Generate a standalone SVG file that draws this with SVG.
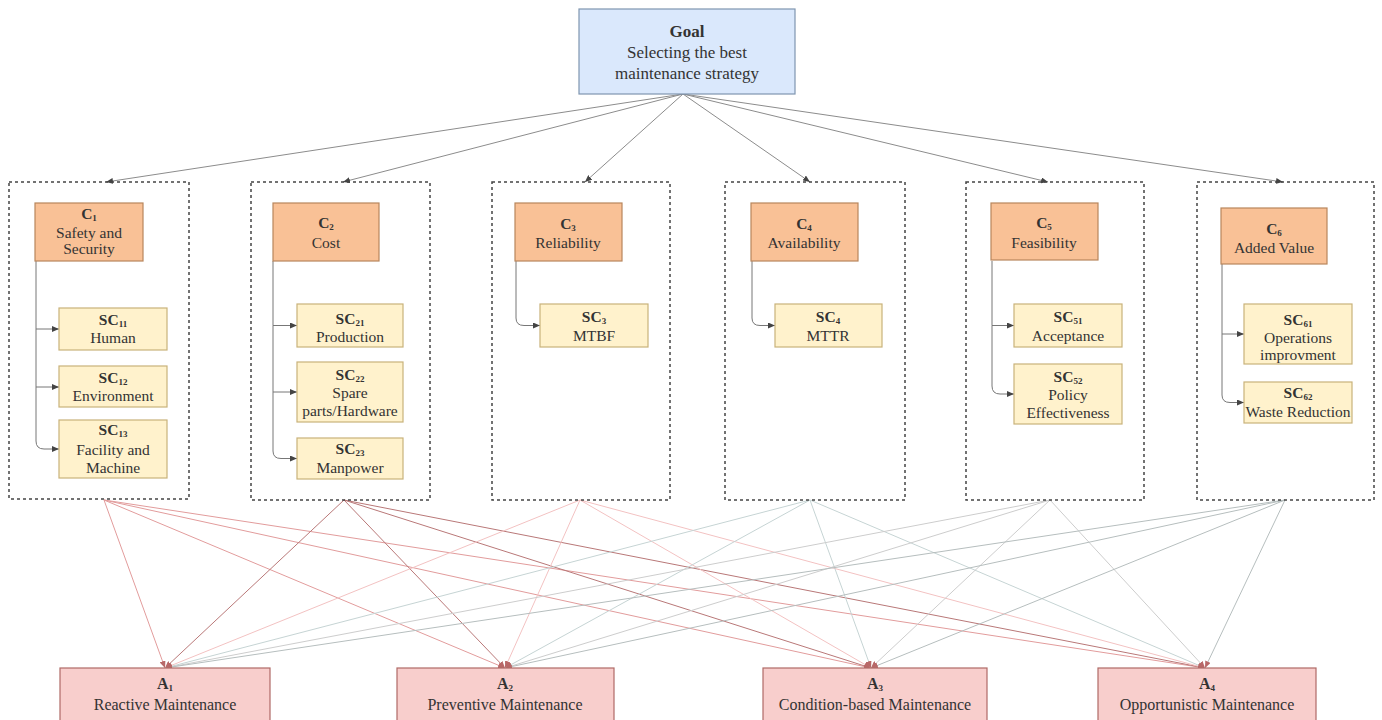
<svg xmlns="http://www.w3.org/2000/svg" width="1382" height="720" viewBox="0 0 1382 720">
<defs>
<style>
text{font-family:"Liberation Serif","Times New Roman",serif;font-size:15.5px;fill:#333;text-anchor:middle}
.g{font-size:17px}
.a{font-size:16px}
.b{font-weight:bold}
.s{font-size:9px}
.goal{fill:#dae8fc;stroke:#7f95b0;stroke-width:1.2}
.crit{fill:#f9c196;stroke:#b8865c;stroke-width:1.2}
.sub{fill:#fff2cc;stroke:#c9b27a;stroke-width:1.2}
.alt{fill:#f8cecc;stroke:#b06a66;stroke-width:1.2}
.box{fill:none;stroke:#444;stroke-width:1.5;stroke-dasharray:3 3}
.top{stroke:#8c8c8c;stroke-width:1;fill:none;marker-end:url(#ah)}
.inn{stroke:#777;stroke-width:1;fill:none;marker-end:url(#ah)}
.bot{stroke-width:1;fill:none;marker-end:url(#ar)}
.l1{stroke:#e29c9c}
.l2{stroke:#b97878}
.l3{stroke:#f3c2c2}
.l4{stroke:#c6d4d4}
.l5{stroke:#cdcdcd}
.l6{stroke:#b6bebe}
</style>
<marker id="ah" markerUnits="userSpaceOnUse" markerWidth="7" markerHeight="6" refX="7" refY="3" orient="auto"><path d="M0,0 L7,3 L0,6 z" fill="#444"/></marker>
<marker id="ar" markerUnits="userSpaceOnUse" markerWidth="7" markerHeight="6" refX="7" refY="3" orient="auto"><path d="M0,0 L7,3 L0,6 z" fill="#b86868"/></marker>
</defs>
<rect width="1382" height="720" fill="#fff"/>

<g id="connectors">
<path class="top" d="M683 94 L106 182"/>
<path class="top" d="M683 94 L343 182"/>
<path class="top" d="M683 94 L585 182"/>
<path class="top" d="M683 94 L810 182"/>
<path class="top" d="M683 94 L1048 182"/>
<path class="top" d="M683 94 L1283 182"/>

<path class="inn" d="M36 261 V329 H59"/>
<path class="inn" d="M36 329 V387 H59"/>
<path class="inn" d="M36 387 V441 Q36 449 44 449 H59"/>
<path class="inn" d="M273 261 V325.5 H297"/>
<path class="inn" d="M273 325.5 V392 H297"/>
<path class="inn" d="M273 392 V451 Q273 458.5 281 458.5 H297"/>
<path class="inn" d="M516 261 V318 Q516 325.5 524 325.5 H540"/>
<path class="inn" d="M752 261 V318 Q752 325.5 760 325.5 H775"/>
<path class="inn" d="M992 261 V325.5 H1014"/>
<path class="inn" d="M992 325.5 V386 Q992 394 1000 394 H1014"/>
<path class="inn" d="M1222 264 V334 H1244"/>
<path class="inn" d="M1222 334 V395 Q1222 402.5 1230 402.5 H1244"/>

<path class="bot l1" d="M104 500 L165 668"/>
<path class="bot l1" d="M104 500 L505 668"/>
<path class="bot l1" d="M104 500 L871 668"/>
<path class="bot l1" d="M104 500 L1205 668"/>
<path class="bot l2" d="M344 500 L165 668"/>
<path class="bot l2" d="M344 500 L505 668"/>
<path class="bot l2" d="M344 500 L871 668"/>
<path class="bot l2" d="M344 500 L1205 668"/>
<path class="bot l3" d="M580 500 L165 668"/>
<path class="bot l3" d="M580 500 L505 668"/>
<path class="bot l3" d="M580 500 L871 668"/>
<path class="bot l3" d="M580 500 L1205 668"/>
<path class="bot l4" d="M810 500 L165 668"/>
<path class="bot l4" d="M810 500 L505 668"/>
<path class="bot l4" d="M810 500 L871 668"/>
<path class="bot l4" d="M810 500 L1205 668"/>
<path class="bot l5" d="M1050 500 L165 668"/>
<path class="bot l5" d="M1050 500 L505 668"/>
<path class="bot l5" d="M1050 500 L871 668"/>
<path class="bot l5" d="M1050 500 L1205 668"/>
<path class="bot l6" d="M1285 500 L165 668"/>
<path class="bot l6" d="M1285 500 L505 668"/>
<path class="bot l6" d="M1285 500 L871 668"/>
<path class="bot l6" d="M1285 500 L1205 668"/>
</g>

<g id="goal">
<rect class="goal" x="579" y="9" width="216" height="85"/>
<text class="g b" x="687" y="37">Goal</text>
<text class="g" x="687" y="58">Selecting the best</text>
<text class="g" x="687" y="79">maintenance strategy</text>
</g>

<g id="group-c1"><rect class="box" x="9" y="182" width="180" height="317"/></g>
<g id="group-c2"><rect class="box" x="251" y="182" width="179" height="318"/></g>
<g id="group-c3"><rect class="box" x="492" y="182" width="178" height="318"/></g>
<g id="group-c4"><rect class="box" x="725" y="182" width="180" height="318"/></g>
<g id="group-c5"><rect class="box" x="966" y="182" width="178" height="318"/></g>
<g id="group-c6"><rect class="box" x="1197" y="182" width="177" height="318"/></g>

<g id="c1">
<rect class="crit" x="35" y="203" width="108" height="58"/>
<text class="b" x="89" y="219">C<tspan class="s" dy="2">1</tspan></text>
<text x="89" y="238">Safety and</text>
<text x="89" y="254">Security</text>
</g>
<g id="sc11">
<rect class="sub" x="59" y="308" width="108" height="42"/>
<text class="b" x="113" y="325">SC<tspan class="s" dy="2">11</tspan></text>
<text x="113" y="343">Human</text>
</g>
<g id="sc12">
<rect class="sub" x="59" y="366" width="108" height="41"/>
<text class="b" x="113" y="383">SC<tspan class="s" dy="2">12</tspan></text>
<text x="113" y="401">Environment</text>
</g>
<g id="sc13">
<rect class="sub" x="59" y="420" width="108" height="58"/>
<text class="b" x="113" y="435">SC<tspan class="s" dy="2">13</tspan></text>
<text x="113" y="455">Facility and</text>
<text x="113" y="473">Machine</text>
</g>

<g id="c2">
<rect class="crit" x="273" y="203" width="106" height="58"/>
<text class="b" x="326" y="228">C<tspan class="s" dy="2">2</tspan></text>
<text x="326" y="248">Cost</text>
</g>
<g id="sc21">
<rect class="sub" x="297" y="304" width="106" height="43"/>
<text class="b" x="350" y="324">SC<tspan class="s" dy="2">21</tspan></text>
<text x="350" y="342">Production</text>
</g>
<g id="sc22">
<rect class="sub" x="297" y="362" width="106" height="60"/>
<text class="b" x="350" y="380">SC<tspan class="s" dy="2">22</tspan></text>
<text x="350" y="398">Spare</text>
<text x="350" y="416">parts/Hardware</text>
</g>
<g id="sc23">
<rect class="sub" x="297" y="438" width="106" height="41"/>
<text class="b" x="350" y="454">SC<tspan class="s" dy="2">23</tspan></text>
<text x="350" y="473">Manpower</text>
</g>

<g id="c3">
<rect class="crit" x="515" y="203" width="107" height="58"/>
<text class="b" x="568" y="229">C<tspan class="s" dy="2">3</tspan></text>
<text x="568" y="248">Reliability</text>
</g>
<g id="sc3">
<rect class="sub" x="540" y="304" width="108" height="43"/>
<text class="b" x="594" y="322">SC<tspan class="s" dy="2">3</tspan></text>
<text x="594" y="341">MTBF</text>
</g>

<g id="c4">
<rect class="crit" x="751" y="203" width="107" height="58"/>
<text class="b" x="804" y="229">C<tspan class="s" dy="2">4</tspan></text>
<text x="804" y="248">Availability</text>
</g>
<g id="sc4">
<rect class="sub" x="775" y="304" width="107" height="43"/>
<text class="b" x="828" y="322">SC<tspan class="s" dy="2">4</tspan></text>
<text x="828" y="341">MTTR</text>
</g>

<g id="c5">
<rect class="crit" x="991" y="203" width="107" height="57"/>
<text class="b" x="1044" y="228">C<tspan class="s" dy="2">5</tspan></text>
<text x="1044" y="248">Feasibility</text>
</g>
<g id="sc51">
<rect class="sub" x="1014" y="304" width="108" height="43"/>
<text class="b" x="1068" y="322">SC<tspan class="s" dy="2">51</tspan></text>
<text x="1068" y="341">Acceptance</text>
</g>
<g id="sc52">
<rect class="sub" x="1014" y="364" width="108" height="60"/>
<text class="b" x="1068" y="382">SC<tspan class="s" dy="2">52</tspan></text>
<text x="1068" y="400">Policy</text>
<text x="1068" y="418">Effectiveness</text>
</g>

<g id="c6">
<rect class="crit" x="1221" y="208" width="106" height="56"/>
<text class="b" x="1274" y="234">C<tspan class="s" dy="2">6</tspan></text>
<text x="1274" y="253">Added Value</text>
</g>
<g id="sc61">
<rect class="sub" x="1244" y="304" width="108" height="60"/>
<text class="b" x="1298" y="325">SC<tspan class="s" dy="2">61</tspan></text>
<text x="1298" y="343">Operations</text>
<text x="1298" y="360">improvment</text>
</g>
<g id="sc62">
<rect class="sub" x="1244" y="382" width="108" height="41"/>
<text class="b" x="1298" y="398">SC<tspan class="s" dy="2">62</tspan></text>
<text x="1298" y="417">Waste Reduction</text>
</g>

<g id="a1">
<rect class="alt" x="60" y="668" width="210" height="60"/>
<text class="a b" x="165" y="689">A<tspan class="s" dy="2">1</tspan></text>
<text class="a" x="165" y="710">Reactive Maintenance</text>
</g>
<g id="a2">
<rect class="alt" x="397" y="668" width="217" height="60"/>
<text class="a b" x="505" y="689">A<tspan class="s" dy="2">2</tspan></text>
<text class="a" x="505" y="710">Preventive Maintenance</text>
</g>
<g id="a3">
<rect class="alt" x="763" y="668" width="224" height="60"/>
<text class="a b" x="875" y="689">A<tspan class="s" dy="2">3</tspan></text>
<text class="a" x="875" y="710">Condition-based Maintenance</text>
</g>
<g id="a4">
<rect class="alt" x="1098" y="668" width="218" height="60"/>
<text class="a b" x="1207" y="689">A<tspan class="s" dy="2">4</tspan></text>
<text class="a" x="1207" y="710">Opportunistic Maintenance</text>
</g>
</svg>
